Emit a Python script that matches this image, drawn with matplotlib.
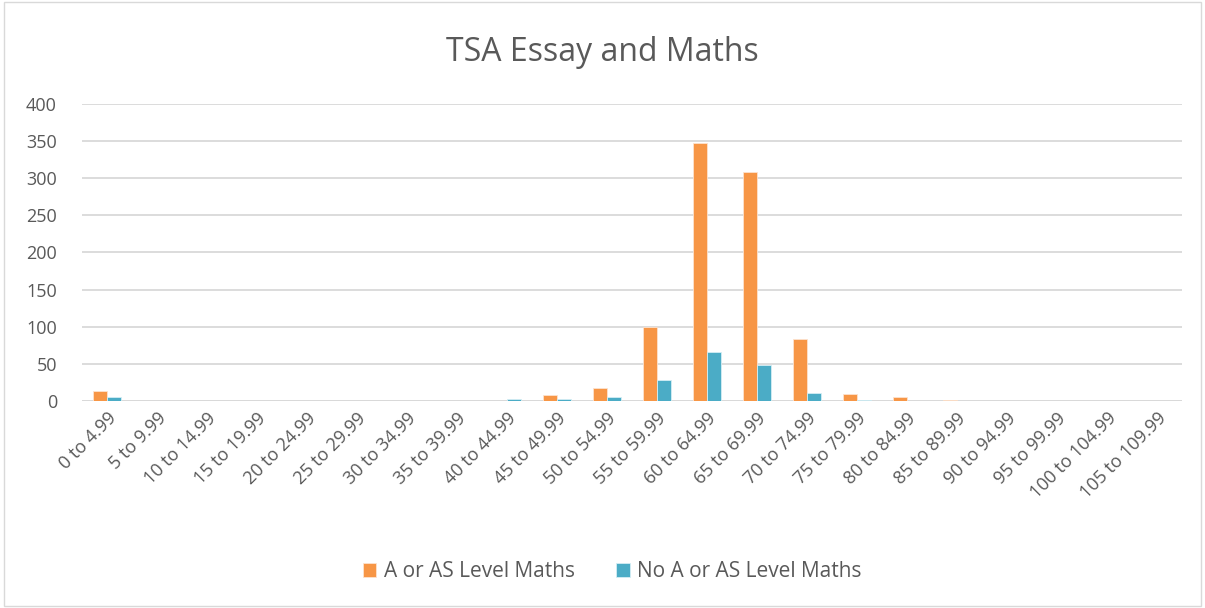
import numpy as np
import matplotlib.pyplot as plt

plt.rcParams['font.family'] = ['Open Sans', 'DejaVu Sans']

categories = ['0 to 4.99', '5 to 9.99', '10 to 14.99', '15 to 19.99', '20 to 24.99',
              '25 to 29.99', '30 to 34.99', '35 to 39.99', '40 to 44.99', '45 to 49.99',
              '50 to 54.99', '55 to 59.99', '60 to 64.99', '65 to 69.99', '70 to 74.99',
              '75 to 79.99', '80 to 84.99', '85 to 89.99', '90 to 94.99', '95 to 99.99',
              '100 to 104.99', '105 to 109.99']
maths = [14, 0, 0, 0, 0, 0, 0, 0, 0, 8, 18, 99, 348, 308, 83, 9, 5, 1, 0, 0, 0, 0]
no_maths = [6, 0, 0, 0, 0, 0, 0, 0, 2, 2, 6, 28, 66, 48, 11, 1, 0, 0, 0, 0, 0, 0]
yticks = [0, 50, 100, 150, 200, 250, 300, 350, 400]

text_col = '#595959'
grid_col = '#d9d9d9'

fig = plt.figure(figsize=(12.05, 6.08), dpi=100)
ax = fig.add_axes([0.068, 0.3405, 0.913, 0.4885])

x = np.arange(len(categories))
w = 0.28
ax.bar(x - w / 2, maths, w, color='#F79646', edgecolor='#fde3cf', linewidth=0.6,
       label='A or AS Level Maths', zorder=3)
ax.bar(x + w / 2, no_maths, w, color='#4BACC6', edgecolor='#d5eef4', linewidth=0.6,
       label='No A or AS Level Maths', zorder=3)

ax.set_xlim(-0.5, len(categories) - 0.5)
ax.set_ylim(0, 400)
ax.set_yticks(yticks)
ax.yaxis.grid(True, color=grid_col, linewidth=1.3, zorder=0)
ax.set_axisbelow(True)
for s in ax.spines.values():
    s.set_visible(False)
ax.axhline(0, color=grid_col, linewidth=1.3, zorder=1)
ax.tick_params(axis='both', length=0, colors=text_col, labelsize=13)
ax.tick_params(axis='y', pad=18)
ax.set_xticks(x)
ax.set_xticklabels(categories, rotation=45, ha='right', rotation_mode='anchor')
ax.tick_params(axis='x', pad=6)

fig.suptitle('TSA Essay and Maths', y=0.94, fontsize=23, color=text_col)
fig.legend(loc='center', bbox_to_anchor=(0.508, 0.06), ncol=2, frameon=False,
           fontsize=15, labelcolor=text_col, handlelength=0.65, handleheight=0.65,
           columnspacing=2.0, handletextpad=0.35)

border = plt.Rectangle((0.003, 0.003), 0.994, 0.994, transform=fig.transFigure,
                       fill=False, edgecolor='#d9d9d9', linewidth=1)
fig.patches.append(border)

fig.savefig('out.png', dpi=100)
